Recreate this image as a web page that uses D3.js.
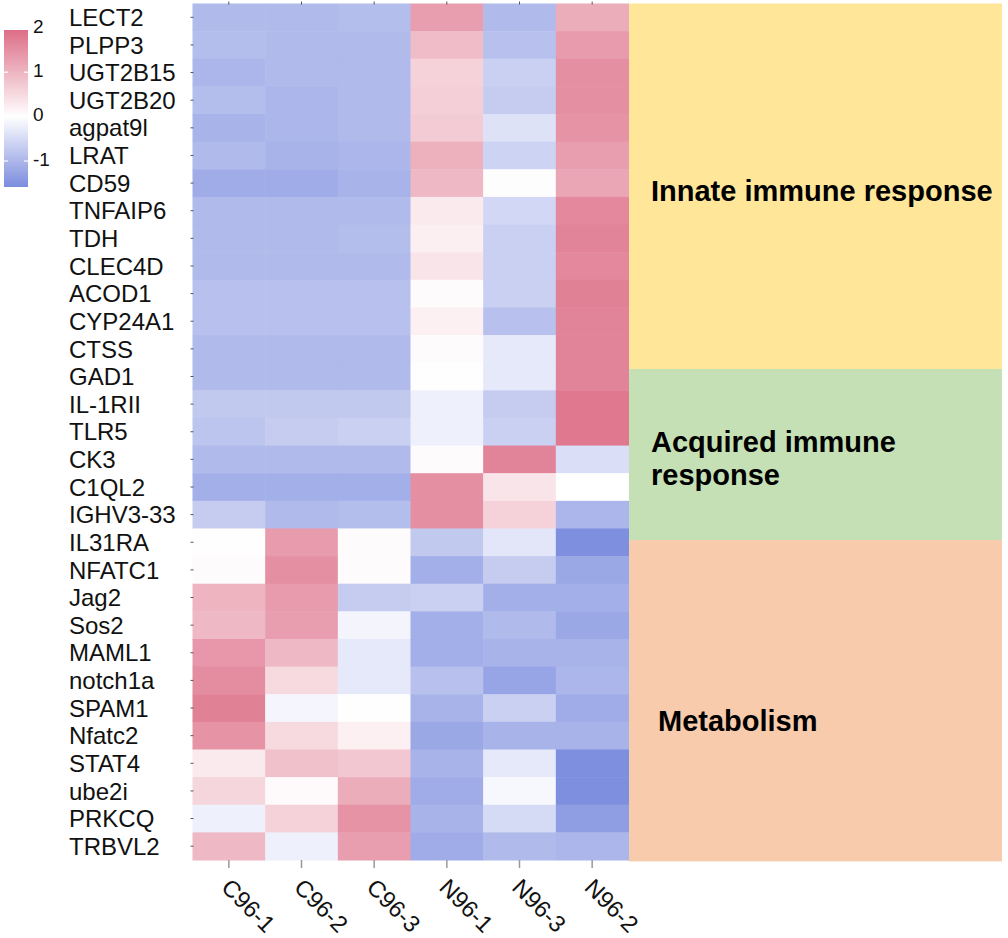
<!DOCTYPE html>
<html>
<head>
<meta charset="utf-8">
<script src="https://cdn.jsdelivr.net/npm/d3@7"></script>
<style>
  html, body { margin: 0; padding: 0; background: #fff; }
  svg { display: block; font-family: "Liberation Sans", Arial, sans-serif; }
</style>
</head>
<body>
<svg id="chart" width="1008" height="938"></svg>
<script>
// genes (rows, top to bottom) and samples (columns, left to right)
const genes = ['LECT2','PLPP3','UGT2B15','UGT2B20','agpat9l','LRAT','CD59','TNFAIP6','TDH','CLEC4D',
  'ACOD1','CYP24A1','CTSS','GAD1','IL-1RII','TLR5','CK3','C1QL2','IGHV3-33','IL31RA',
  'NFATC1','Jag2','Sos2','MAML1','notch1a','SPAM1','Nfatc2','STAT4','ube2i','PRKCQ','TRBVL2'];
const samples = ['C96-1','C96-2','C96-3','N96-1','N96-3','N96-2'];

// z-scored expression, one array per sample (same order as genes)
const c96_1 = [-0.95,-0.9,-1.0,-0.9,-1.05,-0.95,-1.15,-0.95,-0.95,-0.95,
  -0.85,-0.85,-0.95,-0.95,-0.75,-0.8,-0.95,-1.1,-0.7,0.02,
  0.05,1.0,0.95,1.4,1.55,1.7,1.45,0.3,0.55,-0.2,0.95];
const c96_2 = [-0.95,-0.95,-0.95,-1.0,-1.0,-1.05,-1.15,-0.95,-0.95,-0.95,
  -0.85,-0.85,-0.95,-0.95,-0.75,-0.7,-0.95,-1.1,-0.95,1.35,
  1.5,1.35,1.3,0.95,0.5,-0.12,0.5,0.85,0.08,0.6,-0.2];
const c96_3 = [-0.9,-0.95,-0.95,-0.95,-0.95,-1.0,-1.05,-0.95,-0.9,-0.95,
  -0.85,-0.85,-0.95,-0.95,-0.75,-0.65,-0.95,-1.1,-0.9,0.05,
  0.05,-0.7,-0.15,-0.3,-0.3,0.02,0.2,0.75,1.1,1.45,1.3];
const n96_1 = [1.3,0.9,0.6,0.65,0.7,1.05,0.95,0.3,0.22,0.35,
  0.05,0.2,0.05,0.02,-0.2,-0.2,0.05,1.5,1.5,-0.75,
  -1.1,-0.65,-1.1,-1.1,-0.85,-1.05,-1.2,-1.05,-1.15,-1.05,-1.15];
const n96_3 = [-0.95,-0.85,-0.65,-0.7,-0.4,-0.6,-0.03,-0.55,-0.65,-0.65,
  -0.65,-0.85,-0.3,-0.3,-0.7,-0.65,1.65,0.35,0.6,-0.35,
  -0.7,-1.1,-0.95,-1.05,-1.25,-0.65,-1.05,-0.3,-0.1,-0.5,-0.95];
const n96_2 = [1.1,1.35,1.5,1.5,1.45,1.3,1.2,1.6,1.65,1.6,
  1.7,1.65,1.65,1.65,1.8,1.8,-0.45,0.0,-1.0,-1.55,
  -1.2,-1.1,-1.2,-1.05,-1.0,-1.15,-1.05,-1.55,-1.55,-1.35,-1.0];
const seriesBySample = [c96_1, c96_2, c96_3, n96_1, n96_3, n96_2];

// colour key
const scaleBreaks = [-1.585, 0, 1.95];
const keyTicks = [-1, 0, 1, 2];

// functional annotation bands (in row units)
const groupNames = [['Innate immune response'], ['Acquired immune', 'response'], ['Metabolism']];
const groupStart = [0, 13.23, 19.42];
const groupEnd = [13.23, 19.42, 31.05];
const groupFill = ['#ffe699', '#c5e0b4', '#f8cbad'];

// ---------- layout ----------
const hm = { left: 192.5, right: 628.5, top: 3.5, bottom: 860 };
const annoRight = 1002;

const svg = d3.select('#chart');

const x = d3.scaleBand().domain(samples).range([hm.left, hm.right]);
const y = d3.scaleBand().domain(genes).range([hm.top, hm.bottom]);
const rowPos = d3.scaleLinear().domain([0, genes.length]).range([hm.top, hm.bottom]);
const color = d3.scaleLinear().domain(scaleBreaks).range(['#7b8cde', '#ffffff', '#dd6e87']);

const cells = [];
seriesBySample.forEach((vals, j) => vals.forEach((v, i) => cells.push({ gene: genes[i], sample: samples[j], v })));

// annotation panel
svg.append('g').selectAll('rect').data(groupFill).join('rect')
  .attr('x', hm.right)
  .attr('y', (_, i) => rowPos(groupStart[i]))
  .attr('width', annoRight - hm.right)
  .attr('height', (_, i) => rowPos(groupEnd[i]) - rowPos(groupStart[i]))
  .attr('fill', d => d);

const annoText = [
  { x: 651, y: 201 },
  { x: 651, y: 452 },
  { x: 658, y: 731 }
];
groupNames.forEach((lines, i) => {
  const t = svg.append('text')
    .attr('x', annoText[i].x).attr('y', annoText[i].y)
    .attr('font-size', 29).attr('font-weight', 'bold').attr('fill', '#000');
  lines.forEach((l, k) => t.append('tspan').attr('x', annoText[i].x).attr('dy', k ? 33 : 0).text(l));
});

// heatmap cells
svg.append('g').selectAll('rect').data(cells).join('rect')
  .attr('x', d => x(d.sample))
  .attr('y', d => y(d.gene))
  .attr('width', x.bandwidth() + 0.5)
  .attr('height', y.bandwidth() + 0.5)
  .attr('fill', d => color(d.v));

// small tick marks on top / left, grey ticks below
const tk = svg.append('g').attr('stroke', '#555').attr('stroke-width', 1);
tk.selectAll('.tt').data(samples).join('line').attr('class', 'tt')
  .attr('x1', d => x(d) + x.bandwidth() / 2).attr('x2', d => x(d) + x.bandwidth() / 2)
  .attr('y1', hm.top - 2).attr('y2', hm.top + 1);
tk.selectAll('.lt').data(genes).join('line').attr('class', 'lt')
  .attr('y1', d => y(d) + y.bandwidth() / 2).attr('y2', d => y(d) + y.bandwidth() / 2)
  .attr('x1', hm.left - 2).attr('x2', hm.left + 1);
svg.append('g').attr('stroke', '#999').attr('stroke-width', 1.5)
  .selectAll('line').data(samples).join('line')
  .attr('x1', d => x(d) + x.bandwidth() / 2).attr('x2', d => x(d) + x.bandwidth() / 2)
  .attr('y1', hm.bottom).attr('y2', hm.bottom + 8);

// row labels
svg.append('g').selectAll('text').data(genes).join('text')
  .attr('x', 69)
  .attr('y', d => y(d) + y.bandwidth() / 2)
  .attr('dy', '0.36em')
  .attr('font-size', 24)
  .attr('fill', '#111')
  .text(d => d);

// column labels, rotated
svg.append('g').selectAll('text').data(samples).join('text')
  .attr('transform', d => `translate(${x(d) + x.bandwidth() / 2 - 3},${hm.bottom + 23}) rotate(45)`)
  .attr('dy', '0.35em')
  .attr('font-size', 23.5)
  .attr('fill', '#111')
  .text(d => d);

// colour key
const key = { x: 4, w: 24, top: 30, bottom: 187 };
const keyY = d3.scaleLinear().domain([scaleBreaks[2], scaleBreaks[0]]).range([key.top, key.bottom]);
const grad = svg.append('defs').append('linearGradient')
  .attr('id', 'keygrad').attr('x1', 0).attr('x2', 0).attr('y1', 0).attr('y2', 1);
d3.range(0, 1.0001, 0.05).forEach(t => {
  grad.append('stop').attr('offset', t).attr('stop-color', color(keyY.invert(key.top + t * (key.bottom - key.top))));
});
svg.append('rect').attr('x', key.x).attr('y', key.top)
  .attr('width', key.w).attr('height', key.bottom - key.top).attr('fill', 'url(#keygrad)');
const kt = svg.append('g');
keyTicks.filter(v => v < scaleBreaks[2]).forEach(v => {
  kt.append('line').attr('x1', key.x).attr('x2', key.x + 4).attr('y1', keyY(v)).attr('y2', keyY(v))
    .attr('stroke', '#fff').attr('stroke-width', 1.2);
  kt.append('line').attr('x1', key.x + key.w - 4).attr('x2', key.x + key.w).attr('y1', keyY(v)).attr('y2', keyY(v))
    .attr('stroke', '#fff').attr('stroke-width', 1.2);
});
kt.selectAll('text').data(keyTicks).join('text')
  .attr('x', 33)
  .attr('y', d => keyY(d) - 2)
  .attr('dy', '0.36em')
  .attr('font-size', 19)
  .attr('fill', '#111')
  .text(d => d);
</script>
</body>
</html>
